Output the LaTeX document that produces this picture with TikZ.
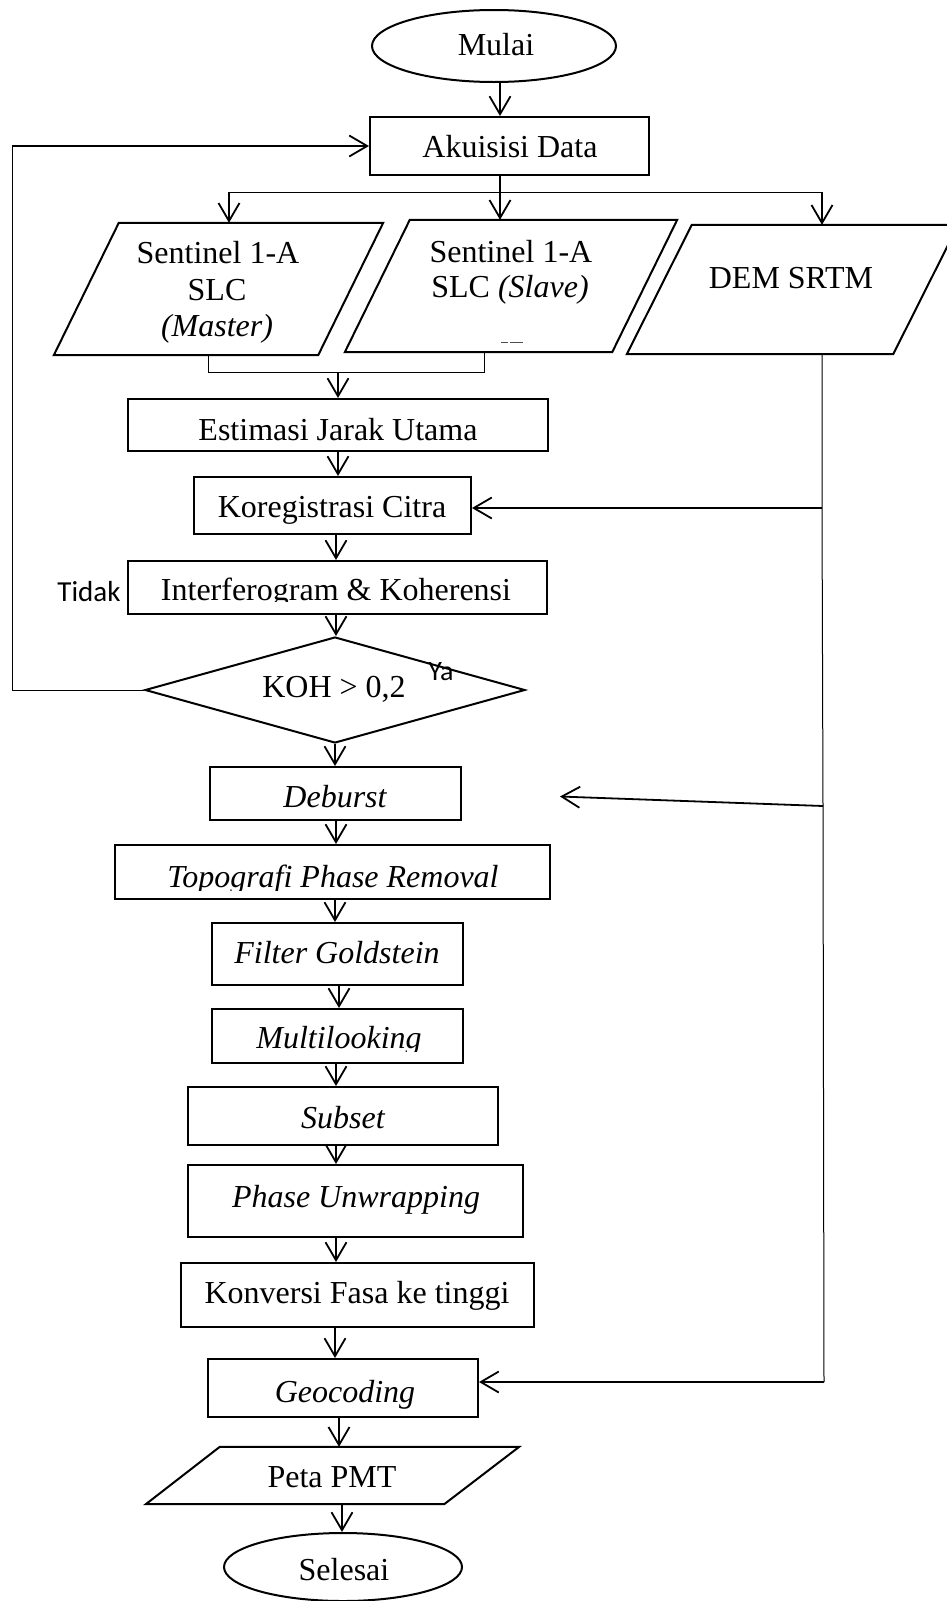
\documentclass[tikz,border=0pt]{standalone}
\usepackage{fontspec}
\setmainfont{Liberation Serif}
\newfontfamily\calib{Carlito}
\usetikzlibrary{arrows.meta,shapes.geometric,calc}
\begin{document}
\begin{tikzpicture}[x=1pt,y=-1pt,
  box/.style={draw,line width=2pt,rectangle,inner sep=0pt},
  ell/.style={draw,line width=2pt,ellipse,inner sep=0pt},
  dia/.style={draw,line width=2pt,diamond,inner sep=0pt},
  ghost/.style={rectangle,inner sep=0pt},
  pline/.style={line width=2pt,line join=miter},
  txt/.style={anchor=base,inner sep=0pt,font=\fontsize{32}{38}\selectfont},
  itxt/.style={anchor=base,inner sep=0pt,font=\fontsize{32}{38}\selectfont\itshape},
  stxt/.style={anchor=base,inner sep=0pt,font=\calib\fontsize{29}{34}\selectfont},
  arr/.style={line width=1.8pt,-{Straight Barb[length=18pt,width=21pt]}},
  thinln/.style={line width=1pt},
]
\useasboundingbox (0,0) rectangle (946,1601);

% ---------- shapes ----------
\node[ell,minimum width=244pt,minimum height=72pt] (mulai) at (494,46) {};
\node[txt] (tMulai) at (496,55) {Mulai};

\node[box,minimum width=279pt,minimum height=58pt] (akuisisi) at (509.5,146) {};
\node[txt] (tAkuisisi) at (510,157) {Akuisisi Data};

% parallelograms (ghost bounding nodes)
\node[ghost,minimum width=329pt,minimum height=132pt] (master) at (218.5,289) {};
\draw[pline] ([xshift=65pt]master.north west) -- (master.north east) -- ([xshift=-65pt]master.south east) -- (master.south west) -- cycle;
\node[txt] (tM1) at (218,263) {Sentinel 1-A};
\node[txt] (tM2) at (217,300) {SLC};
\node[itxt] (tM3) at (217,336) {(Master)};

\node[ghost,minimum width=332pt,minimum height=132pt] (slave) at (511,286) {};
\draw[pline] ([xshift=65pt]slave.north west) -- (slave.north east) -- ([xshift=-65pt]slave.south east) -- (slave.south west) -- cycle;
\node[txt] (tS1) at (511,262) {Sentinel 1-A};
\node[txt] (tS2) at (510,297) {SLC \textit{(Slave)}};
\draw[line width=0.8pt,black!70] (501,342) -- (508,342) (510,342) -- (523,342);

\node[ghost,minimum width=331pt,minimum height=129pt] (dem) at (792.5,289.5) {};
\draw[pline] ([xshift=65pt]dem.north west) -- (dem.north east) -- ([xshift=-65pt]dem.south east) -- (dem.south west) -- cycle;
\node[txt] (tDem) at (791,288) {DEM SRTM};

\node[box,minimum width=420pt,minimum height=52pt] (estimasi) at (338,425) {};
\node[txt] (tEst) at (338,440) {Estimasi Jarak Utama};

\node[box,minimum width=277pt,minimum height=57pt] (koreg) at (332.5,505.5) {};
\node[txt] (tKor) at (332,517) {Koregistrasi Citra};

\node[box,minimum width=419pt,minimum height=53pt] (interf) at (337.5,587.5) {};
\begin{scope}
  \clip (0,0) rectangle (946,601.5);
  \node[txt] (tInt) at (336,600) {Interferogram \& Koherensi};
\end{scope}
\node[stxt] (tTidak) at (89,601) {Tidak};

\node[dia,minimum width=380pt,minimum height=106pt] (koh) at (335,690) {};
\node[txt] (tKoh) at (334,697) {KOH > 0,2};
\node[stxt,font=\calib\fontsize{28}{32}\selectfont] (tYa) at (441,680) {Ya};

\node[box,minimum width=251pt,minimum height=53pt] (deburst) at (335.5,793.5) {};
\node[itxt] (tDeb) at (335,807) {Deburst};

\node[box,minimum width=435pt,minimum height=54pt] (topo) at (332.5,872) {};
\begin{scope}
  \clip (0,0) rectangle (946,890);
  \node[itxt] (tTopo) at (333,887) {Topografi Phase Removal};
\end{scope}

\node[box,minimum width=251pt,minimum height=62pt] (filter) at (337.5,954) {};
\node[itxt] (tFil) at (337,963) {Filter Goldstein};

\node[box,minimum width=251pt,minimum height=54pt] (multi) at (337.5,1036) {};
\begin{scope}
  \clip (0,0) rectangle (946,1051);
  \node[itxt] (tMul) at (339,1048) {Multilooking};
\end{scope}

\node[box,minimum width=310pt,minimum height=58pt] (subset) at (343,1116) {};
\node[itxt] (tSub) at (343,1128) {Subset};

\node[box,minimum width=335pt,minimum height=72pt] (phaseu) at (355.5,1201) {};
\node[itxt] (tPU) at (356,1207) {Phase Unwrapping};

\node[box,minimum width=353pt,minimum height=64pt] (konv) at (357.5,1295) {};
\node[txt] (tKon) at (357,1303) {Konversi Fasa ke tinggi};

\node[box,minimum width=270pt,minimum height=58pt] (geo) at (343,1388) {};
\node[itxt] (tGeo) at (345,1402) {Geocoding};

\node[ghost,minimum width=373pt,minimum height=57pt] (peta) at (332.5,1475.5) {};
\draw[pline] ([xshift=74pt]peta.north west) -- (peta.north east) -- ([xshift=-75pt]peta.south east) -- (peta.south west) -- cycle;
\node[txt] (tPeta) at (332,1487) {Peta PMT};

\node[ell,minimum width=238pt,minimum height=68pt] (selesai) at (343,1567) {};
\node[txt] (tSel) at (344,1580) {Selesai};

% ---------- connectors ----------
\coordinate (jL) at (229,192);
\coordinate (jM) at (500,192);
\coordinate (jR) at (822,192);
\draw[arr] (mulai.south -| jM) -- (akuisisi.north -| jM);
\draw[arr] (akuisisi.south -| jM) -- (jM |- slave.north);
\draw[thinln] (jL) -- (jR);
\draw[arr] (jL) -- (jL |- master.north);
\draw[arr] (jR) -- (jR |- dem.north);

% merge master/slave
\coordinate (mL) at (208,372);
\coordinate (mR) at (484,372);
\coordinate (mC) at (338,372);
\draw[thinln] (mL |- master.south) -- (mL) -- (mR) -- (mR |- slave.south);
\draw[arr] (mC) -- (estimasi.north -| mC);

% main column
\foreach \a/\b/\x in {estimasi/koreg/338, koreg/interf/336, interf/koh/336, koh/deburst/335,
  deburst/topo/336, topo/filter/335, filter/multi/339, multi/subset/336, subset/phaseu/336,
  phaseu/konv/336, konv/geo/335, geo/peta/339, peta/selesai/342}
  \draw[arr] (\a.south -| \x,0) -- (\b.north -| \x,0);

% feedback loop (Tidak)
\coordinate (fbL) at (12,690);
\draw[thinln] (koh.west) -- (fbL) -- (fbL |- akuisisi.west);
\draw[arr] (fbL |- akuisisi.west) -- (akuisisi.west);

% DEM line
\coordinate (dK) at (822,508);
\coordinate (dD) at (823,806);
\coordinate (dTip) at (560,796.5);
\coordinate (dB) at (824,1382);
\draw[thinln] (jR |- dem.south) -- (dK) -- (dD) -- (dB);
\draw[arr] (dK) -- (koreg.east |- dK);
\draw[arr] (dD) -- (dTip);
\draw[arr] (dB) -- (geo.east |- dB);
\end{tikzpicture}
\end{document}
